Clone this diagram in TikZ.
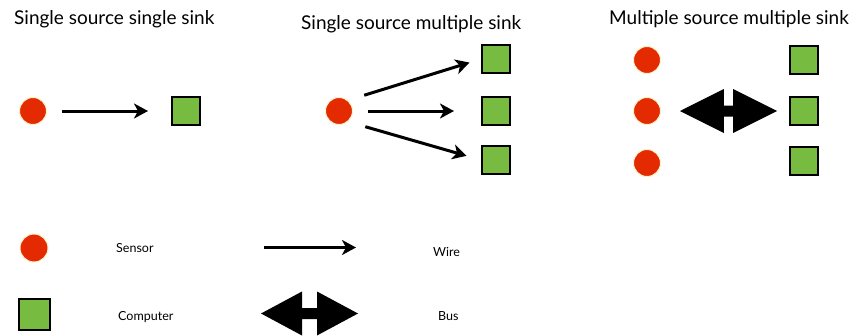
\documentclass[tikz,border=0pt]{standalone}
\usepackage{fontspec}
\setmainfont{Lato}
\usepackage{tikz}
\usetikzlibrary{arrows.meta}
\definecolor{sensorred}{HTML}{E32A00}
\definecolor{sensorrim}{HTML}{FFF1C8}
\definecolor{computergreen}{HTML}{77BC41}
\tikzstyle{sensor}=[
	circle,
	fill=sensorred,
	draw=sensorrim,
	line width=1pt,
	inner sep=0pt,
	minimum size=27pt
]
\tikzstyle{computer}=[
	rectangle,
	fill=computergreen,
	draw=black,
	line width=2pt,
	inner sep=0pt,
	minimum size=28pt
]
\tikzstyle{wire}=[
	-{Stealth[length=14pt,width=15pt,inset=4pt]},
	line width=3pt
]
\tikzstyle{title}=[
	anchor=base west,
	inner sep=0pt,
	font=\fontsize{19}{22}\selectfont
]
\tikzstyle{legend}=[
	anchor=base west,
	inner sep=0pt,
	font=\fontsize{12.5}{15}\selectfont
]
\tikzset{
	pics/bus/.style={code={
		\fill (-48.5,0) -- (-#1,-22) -- (-#1,-5.5) -- (#1,-5.5) -- (#1,-22) -- (48.5,0)
			-- (#1,22) -- (#1,5.5) -- (-#1,5.5) -- (-#1,22) -- cycle;
	}}
}

\begin{document}
\begin{tikzpicture}[x=1pt,y=-1pt]
\useasboundingbox (0,0) rectangle (852,335);
% single source single sink
\node [title] (TitleOne) at (14,24) {Single source single sink};
\node [sensor] (Sensor) at (33,111) {};
\node [computer] (Computer) at (186,111) {};
\draw [wire, shorten <=15pt, shorten >=23pt] (Sensor) -- (Computer);
% single source multiple sink
\node [title] (TitleTwo) at (301,29) {Single source multiple sink};
\node [sensor] (FanSensor) at (339,111) {};
\node [computer] (FanTop) at (496,59) {};
\node [computer] (FanMid) at (496,111) {};
\node [computer] (FanBot) at (496,160) {};
\draw [wire, shorten <=17pt, shorten >=12pt] (FanSensor.50) -- (FanTop.west);
\draw [wire, shorten <=15pt, shorten >=27pt] (FanSensor) -- (FanMid);
\draw [wire, shorten <=18pt, shorten >=15pt] (FanSensor.-50) -- (FanBot.west);
% multiple source multiple sink
\node [title] (TitleThree) at (609,24) {Multiple source multiple sink};
\foreach \y/\name in {60/Top,111/Mid,163/Bot}
	\node [sensor] (BusSensor\name) at (647,\y) {};
\foreach \y/\name in {60/Top,111/Mid,161/Bot}
	\node [computer] (BusComputer\name) at (804,\y) {};
\pic at (728.5,111) {bus=4.7};
% legend
\node [sensor, minimum size=28pt] (KeySensor) at (34,248) {};
\node [legend] (KeySensorText) at (116,252) {Sensor};
\node [computer, minimum size=31pt] (KeyComputer) at (34,314.5) {};
\node [legend] (KeyComputerText) at (118,320) {Computer};
\coordinate (KeyWireStart) at (264,247.5);
\coordinate (KeyWireEnd) at (356,247.5);
\draw [wire] (KeyWireStart) -- (KeyWireEnd);
\node [legend] (KeyWireText) at (433,256) {Wire};
\pic at (309.5,313.5) {bus=7.5};
\node [legend] (KeyBusText) at (438,320) {Bus};
\end{tikzpicture}
\end{document}
